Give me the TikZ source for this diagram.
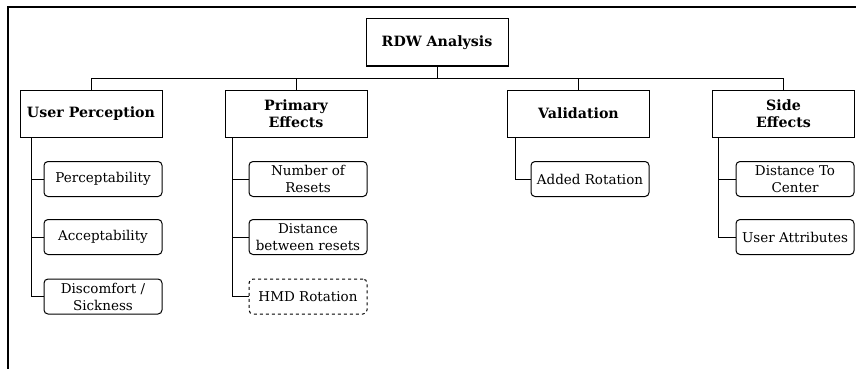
\documentclass[tikz,border=0pt]{standalone}
\usepackage{fontspec}
\setmainfont{DejaVu Serif}
\begin{document}
\begin{tikzpicture}[x=1pt,y=-1pt,
  every node/.style={font=\fontsize{13.5}{17}\selectfont, align=center, inner sep=1pt},
  topbox/.style={draw, line width=1pt, minimum width=142pt, minimum height=47pt, font=\fontsize{14.2}{17}\selectfont\bfseries},
  leaf/.style={draw, line width=1pt, rounded corners=4pt, minimum width=118pt, minimum height=35pt},
  dleaf/.style={leaf, dashed},
  conn/.style={line width=1pt}
]
\useasboundingbox (0,0) rectangle (856,369);
\draw[line width=1.1pt] (8,369) -- (8,7) -- (856,7);

\node[topbox] (root) at (437,42.5) {RDW Analysis};
\node[topbox] (up) at (91,113.5) {User Perception};
\node[topbox] (pe) at (296,113.5) {Primary\\Effects};
\node[topbox] (val) at (578.5,113.5) {Validation};
\node[topbox] (se) at (783.5,113.5) {Side\\Effects};

\coordinate (bus) at (437,78);
\draw[conn] (root.south) -- (bus);
\draw[conn] (up.north) |- (bus);
\draw[conn] (pe.north) |- (bus);
\draw[conn] (val.north) |- (bus);
\draw[conn] (se.north) |- (bus);

\node[leaf] (upa) at (103,179) {Perceptability};
\node[leaf] (upb) at (103,237) {Acceptability};
\node[leaf] (upc) at (103,296.5) {Discomfort /\\Sickness};

\node[leaf] (pea) at (308,179) {Number of\\Resets};
\node[leaf] (peb) at (308,237) {Distance\\between resets};
\node[dleaf] (pec) at (308,296.5) {HMD Rotation};

\node[leaf] (vala) at (590,179) {Added Rotation};

\node[leaf] (sea) at (795,179) {Distance To\\Center};
\node[leaf] (seb) at (795,237) {User Attributes};

\draw[conn] ([xshift=12pt]up.south west) |- (upa.west);
\draw[conn] ([xshift=12pt]up.south west) |- (upb.west);
\draw[conn] ([xshift=12pt]up.south west) |- (upc.west);
\draw[conn] ([xshift=8pt]pe.south west) |- (pea.west);
\draw[conn] ([xshift=8pt]pe.south west) |- (peb.west);
\draw[conn] ([xshift=8pt]pe.south west) |- (pec.west);
\draw[conn] ([xshift=8pt]val.south west) |- (vala.west);
\draw[conn] ([xshift=6pt]se.south west) |- (sea.west);
\draw[conn] ([xshift=6pt]se.south west) |- (seb.west);
\end{tikzpicture}
\end{document}
